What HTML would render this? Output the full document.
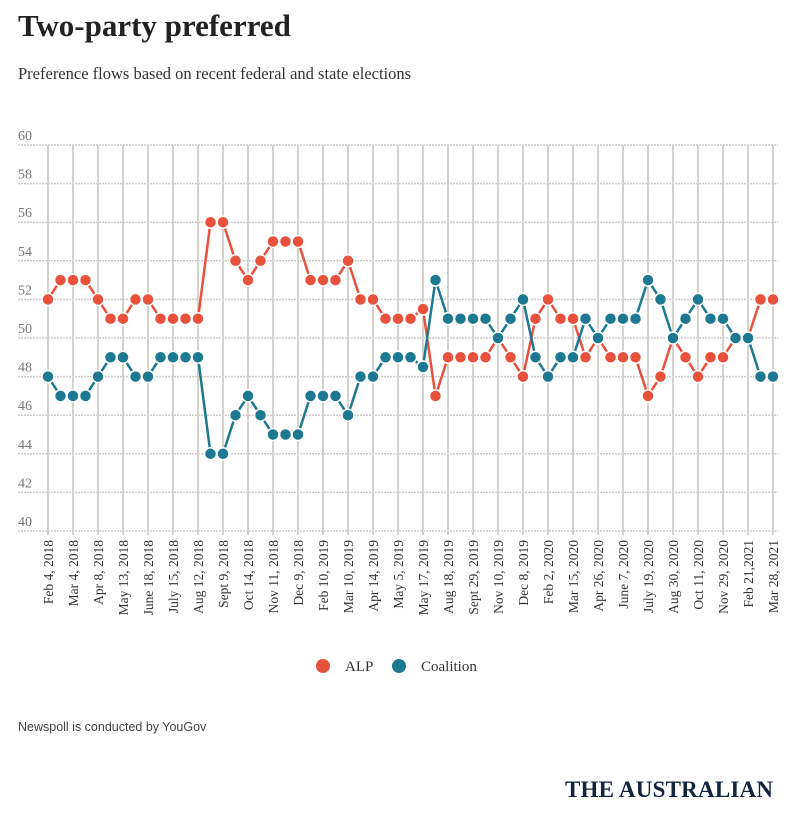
<!DOCTYPE html>
<html><head><meta charset="utf-8"><style>
body{margin:0;background:#fff;width:800px;height:809px;overflow:hidden;font-family:"Liberation Serif",serif}
</style></head><body>
<svg width="800" height="809" id="svg">
<text x="18" y="36" font-size="31" font-weight="bold" fill="#222" font-family="Liberation Serif">Two-party preferred</text>
<text x="18" y="79" font-size="16.5" fill="#333" font-family="Liberation Serif">Preference flows based on recent federal and state elections</text>
<g id="grid"></g><g id="lines"></g><g id="dots"></g>
<g>
<circle cx="323" cy="666" r="7" fill="#e8513b"/>
<text x="345" y="671" font-size="15" fill="#333">ALP</text>
<circle cx="399" cy="666" r="7" fill="#1d7891"/>
<text x="421" y="671" font-size="15" fill="#333">Coalition</text>
</g>
<text x="18" y="731" font-size="12.5" fill="#444" font-family="Liberation Sans">Newspoll is conducted by YouGov</text>
<text x="565" y="797" font-size="23" font-weight="bold" fill="#14233f" font-family="Liberation Serif" textLength="208">THE AUSTRALIAN</text>
</svg>
<script>
const dates=["Feb 4, 2018","Mar 4, 2018","Apr 8, 2018","May 13, 2018","June 18, 2018","July 15, 2018","Aug 12, 2018","Sept 9, 2018","Oct 14, 2018","Nov 11, 2018","Dec 9, 2018","Feb 10, 2019","Mar 10, 2019","Apr 14, 2019","May 5, 2019","May 17, 2019","Aug 18, 2019","Sept 29, 2019","Nov 10, 2019","Dec 8, 2019","Feb 2, 2020","Mar 15, 2020","Apr 26, 2020","June 7, 2020","July 19, 2020","Aug 30, 2020","Oct 11, 2020","Nov 29, 2020","Feb 21,2021","Mar 28, 2021"];
const alp=[52,53,53,53,52,51,51,52,52,51,51,51,51,56,56,54,53,54,55,55,55,53,53,53,54,52,52,51,51,51,51.5,47,49,49,49,49,50,49,48,51,52,51,51,49,50,49,49,49,47,48,50,49,48,49,49,50,50,52,52];
const coalition=[48,47,47,47,48,49,49,48,48,49,49,49,49,44,44,46,47,46,45,45,45,47,47,47,46,48,48,49,49,49,48.5,53,51,51,51,51,50,51,52,49,48,49,49,51,50,51,51,51,53,52,50,51,52,51,51,50,50,48,48];
const yTicks=[40,42,44,46,48,50,52,54,56,58,60];
const NS="http://www.w3.org/2000/svg";
const x0=48,x1=773,yTop=145,yBot=531;
const n=alp.length;
const X=i=>x0+(x1-x0)*i/(n-1);
const Y=v=>yBot-(v-40)/20*(yBot-yTop);
function mk(t,a,p){const e=document.createElementNS(NS,t);for(const k in a)e.setAttribute(k,a[k]);p.appendChild(e);return e;}
const grid=document.getElementById('grid');
yTicks.forEach(v=>{
 const l=mk('line',{x1:18,x2:778,y1:Y(v),y2:Y(v),stroke:'#cfc8c8','stroke-width':1.5,'stroke-dasharray':'2,1'},grid);
 
 
 const t=mk('text',{x:18,y:Y(v)-5,'font-size':14,fill:'#777'},grid);t.textContent=v;
 
 
});
dates.forEach((d,j)=>{
 const x=X(j*2);
 const l=mk('line',{x1:x,x2:x,y1:yTop,y2:yBot+4,stroke:'#d3d3cb','stroke-width':2},grid);
 
 
 const t=mk('text',{x:0,y:0,'font-size':13.5,fill:'#333','text-anchor':'end',transform:`translate(${x+5},540) rotate(-90)`},grid);t.textContent=d;
 
 
});
const lines=document.getElementById('lines'),dots=document.getElementById('dots');
[[alp,'#e8513b','alp'],[coalition,'#1d7891','coalition']].forEach(([s,c,nm])=>{
 const p=mk('polyline',{points:s.map((v,i)=>X(i)+','+Y(v)).join(' '),fill:'none',stroke:c,'stroke-width':2.5},lines);
 
 
});
[[alp,'#e8513b','alp'],[coalition,'#1d7891','coalition']].forEach(([s,c,nm])=>{
 s.forEach((v,i)=>{
  const d=mk('circle',{cx:X(i),cy:Y(v),r:6,fill:c,stroke:'#fff','stroke-width':1.5},dots);
  
  
 });
});
</script>
</body></html>
